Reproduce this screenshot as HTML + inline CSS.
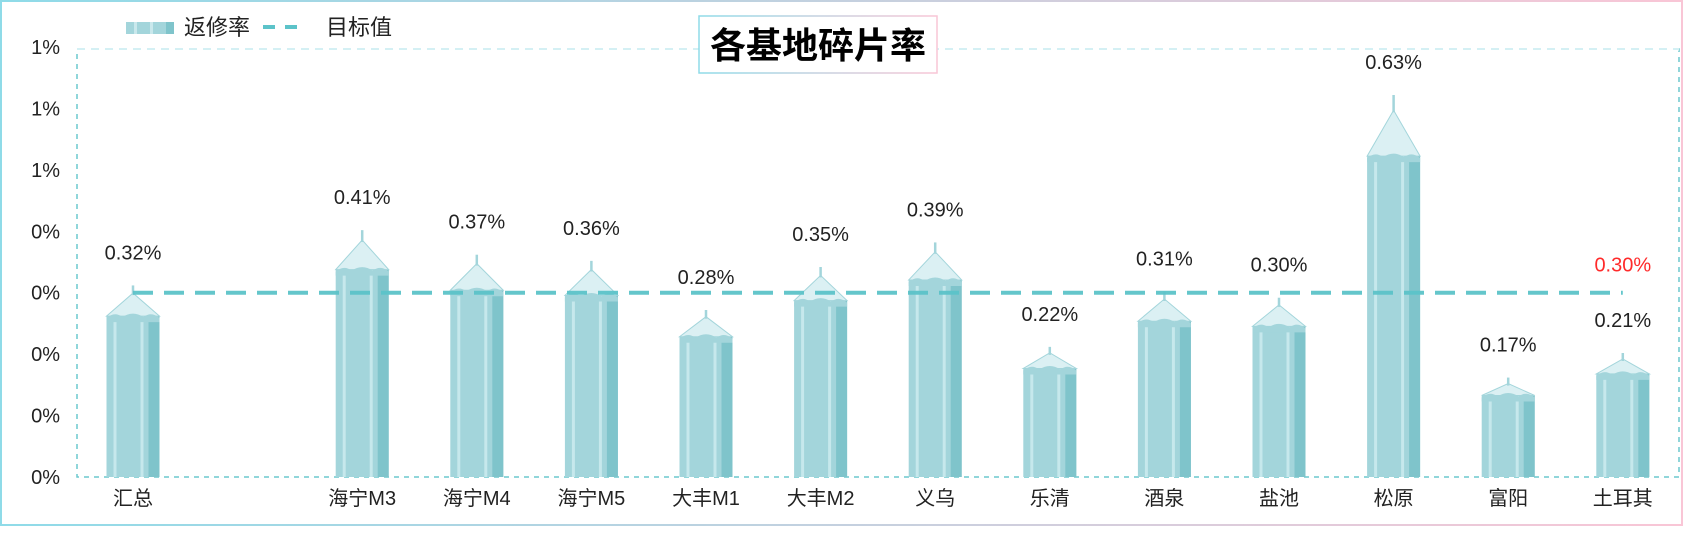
<!DOCTYPE html>
<html><head><meta charset="utf-8"><style>
html,body{margin:0;padding:0;background:#fff;}
body{width:1684px;height:544px;overflow:hidden;font-family:"Liberation Sans","Noto Sans CJK SC",sans-serif;}
</style></head><body>
<svg id="chart" width="1684" height="544" xmlns="http://www.w3.org/2000/svg" font-family="Liberation Sans, Noto Sans CJK SC, sans-serif">
<defs>
<linearGradient id="bord" x1="0" x2="1" y1="0" y2="0"><stop offset="0" stop-color="#8fdbe8"/><stop offset="1" stop-color="#f9c6d6"/></linearGradient>
</defs>
<rect x="1" y="1" width="1681" height="524" fill="none" stroke="url(#bord)" stroke-width="2"/>
<rect x="77" y="49" width="1602" height="428" fill="none" stroke="#5cc3c9" stroke-width="1.5" stroke-dasharray="5,5" opacity="0.9"/>
<line x1="77" y1="49" x2="1679" y2="49" stroke="#fff" stroke-width="3"/>
<line x1="77" y1="49" x2="1679" y2="49" stroke="#c6ecf0" stroke-width="1.5" stroke-dasharray="8,6"/>
<g id="bars"></g>
<g id="yaxis"></g>
<g id="xaxis"></g>
<g>
  <rect x="126" y="22" width="48" height="12" fill="#a3d5db"/>
  <rect x="134" y="22" width="3" height="12" fill="#c9e8ec"/><rect x="150" y="22" width="3" height="12" fill="#c9e8ec"/><rect x="166" y="22" width="8" height="12" fill="#7fc4cb"/>
  <text x="184" y="35" font-size="22" fill="#222">返修率</text>
  <line x1="263" y1="27" x2="306" y2="27" stroke="#5cc3c9" stroke-width="4" stroke-dasharray="12,10"/>
  <text x="326" y="35" font-size="22" fill="#222">目标值</text>
</g>
<rect x="699" y="16" width="238" height="57" fill="#fff" stroke="url(#bord)" stroke-width="1.5"/>
<text x="818" y="58" font-size="36" font-weight="bold" text-anchor="middle" fill="#000">各基地碎片率</text>
</svg>
<script>
const categories = ["汇总","","海宁M3","海宁M4","海宁M5","大丰M1","大丰M2","义乌","乐清","酒泉","盐池","松原","富阳","土耳其"];
const values = [0.32,null,0.41,0.37,0.36,0.28,0.35,0.39,0.22,0.31,0.30,0.63,0.17,0.21];
const valueLabels = ["0.32%","","0.41%","0.37%","0.36%","0.28%","0.35%","0.39%","0.22%","0.31%","0.30%","0.63%","0.17%","0.21%"];
const targetValue = 0.30;
const targetLabel = "0.30%";
const yTicks = [0,0.1,0.2,0.3,0.4,0.5,0.6,0.7];
const yTickLabels = ["0%","0%","0%","0%","0%","1%","1%","1%"];

const NS="http://www.w3.org/2000/svg";
const y0=477, yTop=47, yMax=0.7;
function yScale(v){return y0-(v/yMax)*(y0-yTop);}
const xStart=133, step=114.6;
function xScale(i){return xStart+i*step;}
function mk(tag,attrs,parent){const e=document.createElementNS(NS,tag);for(const k in attrs)e.setAttribute(k,attrs[k]);parent.appendChild(e);return e;}
const bars=document.getElementById('bars'), ya=document.getElementById('yaxis'), xa=document.getElementById('xaxis');

yTicks.forEach((t,i)=>{
  const el=mk('text',{x:60,y:yScale(t)+7,'font-size':20,'text-anchor':'end',fill:'#222'},ya);
  
  
  el.textContent=yTickLabels[i];
});

const w=53;
categories.forEach((c,i)=>{
  const cx=xScale(i);
  if(c){
    const lab=mk('text',{x:cx,y:505,'font-size':20,'text-anchor':'middle',fill:'#222'},xa);
    
    
    lab.textContent=c;
  }
  const v=values[i];
  if(v==null) return;
  const tip=yScale(v)+5, total=y0-tip, needle=Math.max(6,total*0.04), cone=total*0.12;
  const sh=tip+needle+cone;
  const g=mk('g',{},bars);
  
  
  const L=cx-w/2;
  mk('rect',{x:L,y:sh,width:w,height:y0-sh,fill:'#a3d5db'},g);
  mk('rect',{x:L+w-11,y:sh,width:11,height:y0-sh,fill:'#7fc4cb'},g);
  mk('rect',{x:L+7,y:sh,width:3,height:y0-sh,fill:'#c6e8ec'},g);
  mk('rect',{x:L+w-19,y:sh,width:3,height:y0-sh,fill:'#c6e8ec'},g);
  mk('polygon',{points:`${L},${sh} ${cx},${tip+needle} ${L+w},${sh}`,fill:'#dbf0f3',stroke:'#a3d5db','stroke-width':1},g);
  mk('path',{d:`M${L},${sh+2} Q${L+8},${sh-5} ${L+16},${sh+1} Q${cx},${sh-6} ${L+w-16},${sh+1} Q${L+w-8},${sh-5} ${L+w},${sh+2} L${L+w},${sh+6} L${L},${sh+6}Z`,fill:'#a3d5db'},g);
  mk('line',{x1:cx,y1:tip,x2:cx,y2:tip+needle+2,stroke:'#a3d5db','stroke-width':2.5},g);
  const t=mk('text',{x:cx,y:tip-26,'font-size':20,'text-anchor':'middle',fill:'#222'},bars);
  
  
  t.textContent=valueLabels[i];
});

const ty=yScale(targetValue);
const tl=mk('line',{x1:xScale(0),y1:ty,x2:xScale(categories.length-1),y2:ty,stroke:'#5cc3c9','stroke-width':4,'stroke-dasharray':'20,11',opacity:0.95},bars);


const tt=mk('text',{x:xScale(categories.length-1),y:ty-21,'font-size':20,'text-anchor':'middle',fill:'#ff2a2a'},bars);


tt.textContent=targetLabel;
</script>
</body></html>
